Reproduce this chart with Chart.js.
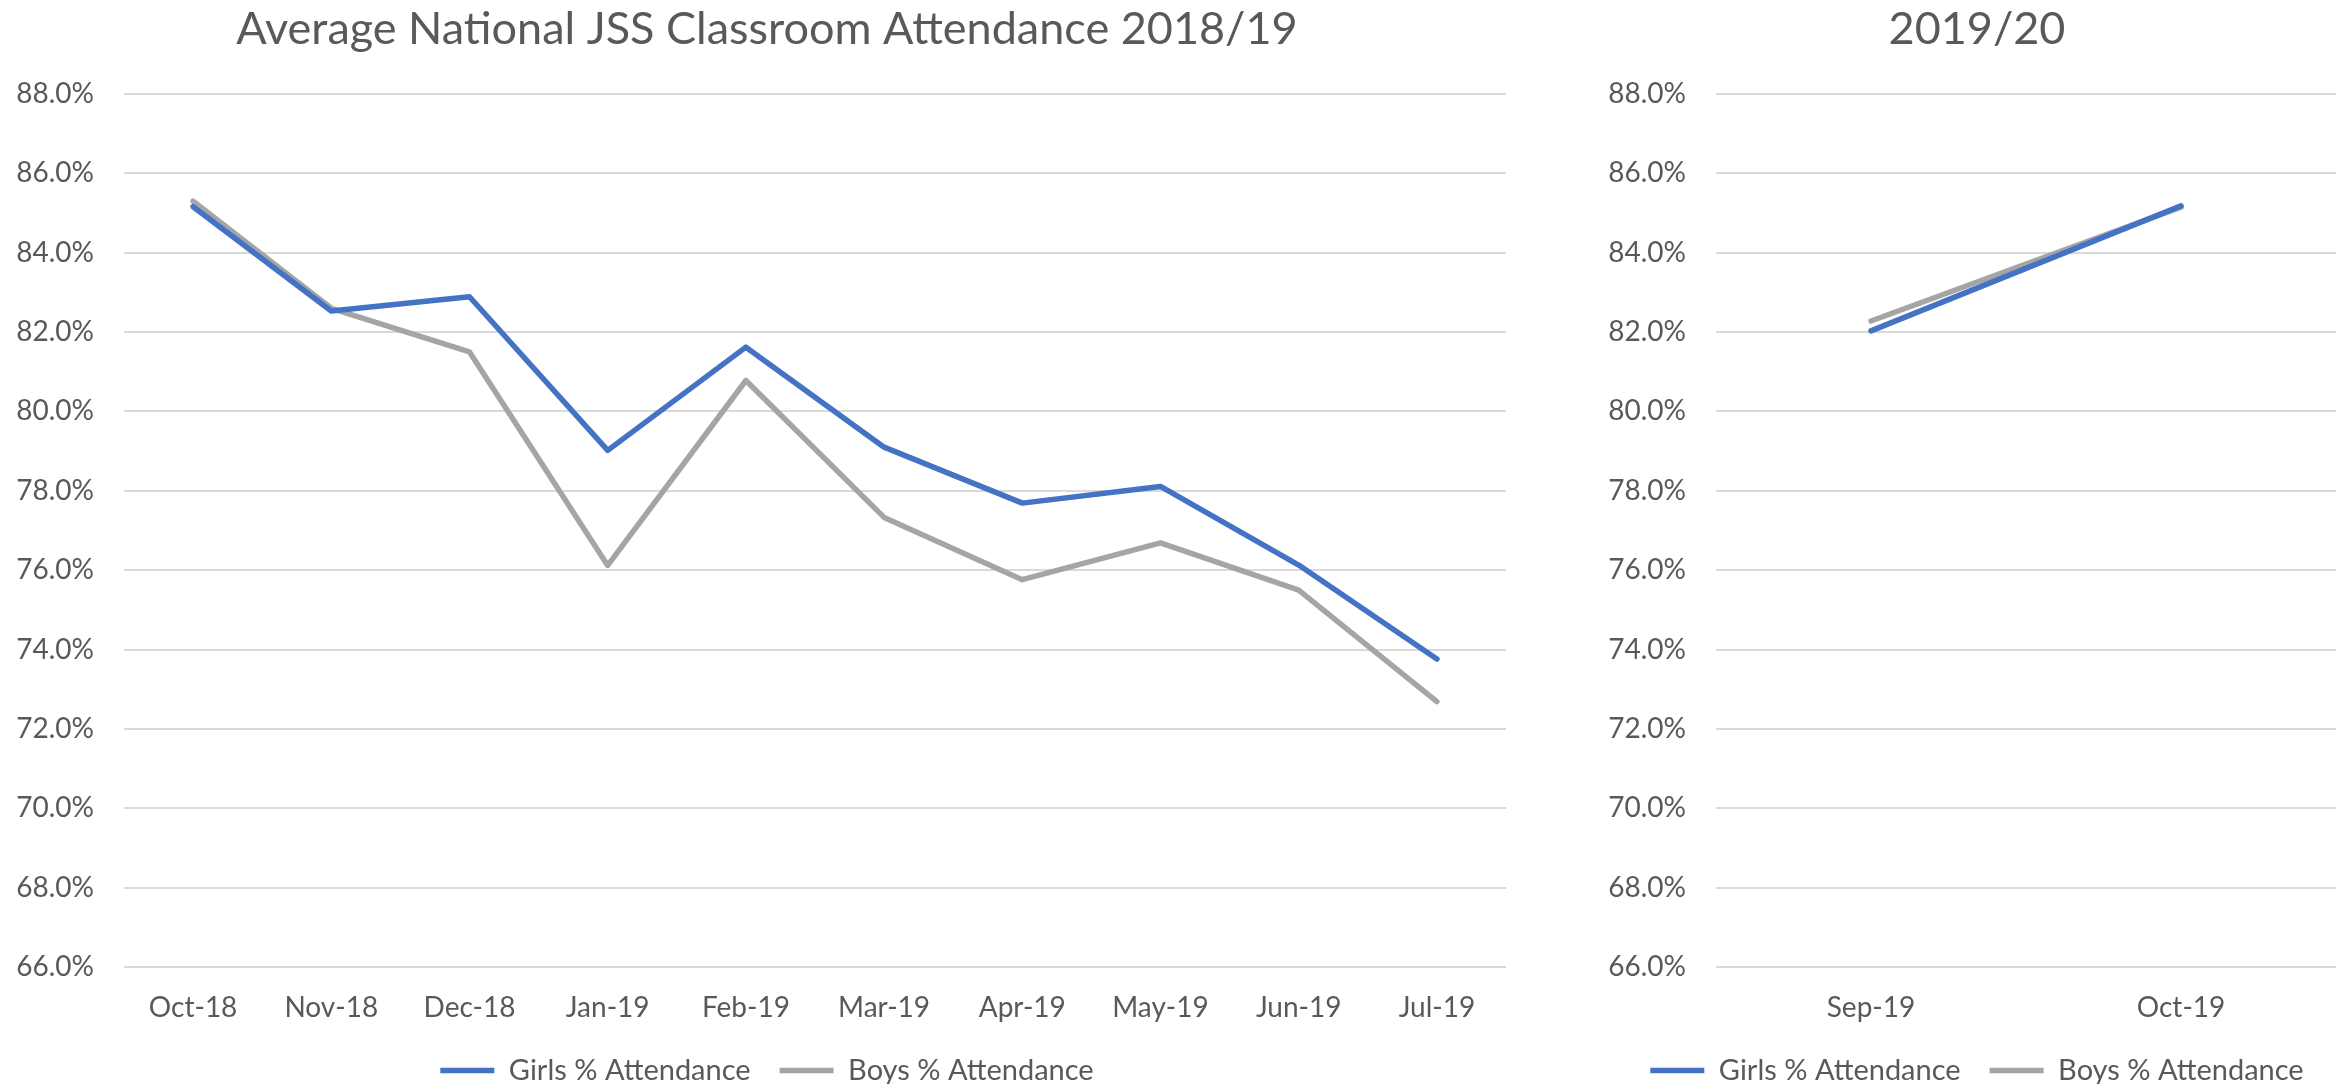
<!DOCTYPE html>
<html>
<head>
<meta charset="utf-8">
<title>JSS Classroom Attendance</title>
<script src="https://cdn.jsdelivr.net/npm/chart.js@4.4.0/dist/chart.umd.min.js"></script>
<style>
    html, body { margin: 0; padding: 0; background: #fff; overflow: hidden; }
    body { width: 2336px; height: 1084px; position: relative; }
    .panel { position: absolute; top: 0; height: 1095px; }
    #panel-1819 { left: 0; width: 1534px; }
    #panel-1920 { left: 1590px; width: 774px; }
</style>
</head>
<body>
<div class="panel" id="panel-1819"><canvas id="chart-1819"></canvas></div>
<div class="panel" id="panel-1920"><canvas id="chart-1920"></canvas></div>
<script>
// 2018/19 school year
const months1819 = ['Oct-18', 'Nov-18', 'Dec-18', 'Jan-19', 'Feb-19', 'Mar-19', 'Apr-19', 'May-19', 'Jun-19', 'Jul-19'];
const girls1819 = [85.16, 82.53, 82.89, 79.02, 81.62, 79.10, 77.69, 78.11, 76.13, 73.76];
const boys1819 = [85.30, 82.60, 81.50, 76.12, 80.78, 77.33, 75.76, 76.69, 75.50, 72.69];

// 2019/20 school year
const months1920 = ['Sep-19', 'Oct-19'];
const girls1920 = [82.03, 85.18];
const boys1920 = [82.28, 85.15];

const yMin = 66;
const yMax = 88;
const yStep = 2;

const title1819 = 'Average National JSS Classroom Attendance 2018/19';
const title1920 = '2019/20';
const girlsLabel = 'Girls % Attendance';
const boysLabel = 'Boys % Attendance';

Chart.defaults.font.family = 'Lato, "Open Sans", sans-serif';
Chart.defaults.color = '#595959';

function makeChart(canvasId, labels, girls, boys, title, yAxisWidth) {
    const ctx = document.getElementById(canvasId).getContext('2d');
    return new Chart(ctx, {
        type: 'line',
        data: {
            labels: labels,
            datasets: [{
                label: girlsLabel,
                data: girls,
                borderColor: '#4472C4',
                backgroundColor: '#4472C4',
                borderWidth: 5.5,
                borderCapStyle: 'round',
                borderJoinStyle: 'round',
                pointRadius: 0,
                tension: 0
            }, {
                label: boysLabel,
                data: boys,
                borderColor: '#A5A5A5',
                backgroundColor: '#A5A5A5',
                borderWidth: 5.5,
                borderCapStyle: 'round',
                borderJoinStyle: 'round',
                pointRadius: 0,
                tension: 0
            }]
        },
        options: {
            responsive: true,
            maintainAspectRatio: false,
            animation: false,
            layout: { padding: 0 },
            plugins: {
                title: {
                    display: true,
                    text: title,
                    color: '#595959',
                    font: { size: 45, weight: 'normal', lineHeight: 1.2 },
                    padding: { top: 2, bottom: 38 }
                },
                legend: {
                    position: 'bottom',
                    labels: {
                        usePointStyle: true,
                        pointStyle: 'line',
                        pointStyleWidth: 54,
                        padding: 29,
                        font: { size: 29 },
                        color: '#595959'
                    }
                },
                tooltip: { enabled: false }
            },
            scales: {
                x: {
                    offset: true,
                    grid: { display: false, drawTicks: false },
                    border: { display: false },
                    ticks: { font: { size: 28, lineHeight: 1.2 }, padding: 24, maxRotation: 0 },
                    afterFit: (axis) => { axis.height = 60; }
                },
                y: {
                    min: yMin,
                    max: yMax,
                    border: { display: false },
                    grid: { color: '#D9D9D9', lineWidth: 2, drawTicks: false },
                    ticks: {
                        stepSize: yStep,
                        padding: 30,
                        font: { size: 28 },
                        callback: (v) => v.toFixed(1) + '%'
                    },
                    afterFit: (axis) => { axis.width = yAxisWidth; }
                },
                // empty right margin so the title and legend centre like the original
                yRight: {
                    position: 'right',
                    grid: { display: false, drawTicks: false },
                    border: { display: false },
                    ticks: { display: false },
                    afterFit: (axis) => { axis.width = 28; }
                }
            }
        }
    });
}

makeChart('chart-1819', months1819, girls1819, boys1819, title1819, 124);
makeChart('chart-1920', months1920, girls1920, boys1920, title1920, 126);
</script>
</body>
</html>
